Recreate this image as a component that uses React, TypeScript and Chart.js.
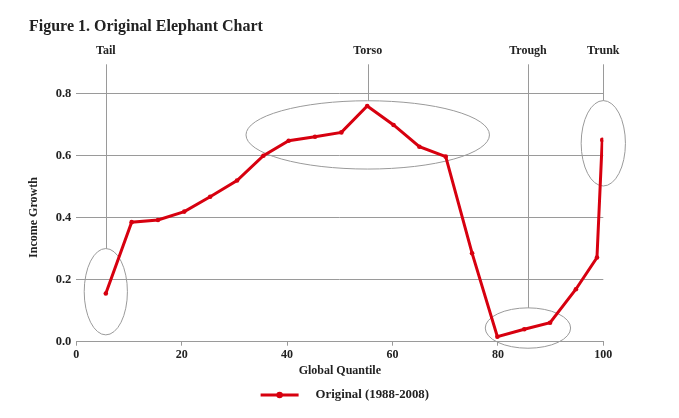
import React, { useEffect, useRef } from 'react';
import { Chart, registerables } from 'chart.js';

Chart.register(...registerables);

// ---- data ----
const chartTitle = 'Figure 1. Original Elephant Chart';
const seriesLabel = 'Original (1988-2008)';
const quantiles = [5.6, 10.5, 15.5, 20.5, 25.4, 30.5, 35.5, 40.3, 45.3, 50.3, 55.2, 60.2, 65.1, 70.1, 75.1, 79.9, 85, 89.9, 94.8, 98.8, 99.8];
const growth = [0.155, 0.385, 0.392, 0.419, 0.467, 0.519, 0.599, 0.647, 0.66, 0.674, 0.759, 0.698, 0.628, 0.596, 0.285, 0.016, 0.04, 0.061, 0.169, 0.271, 0.65];
const yTickValues = [0, 0.2, 0.4, 0.6, 0.8];
const xTickValues = [0, 20, 40, 60, 80, 100];
const xAxisTitle = 'Global Quantile';
const yAxisTitle = 'Income Growth';

// annotated regions (ellipses in data units)
const regionNames = ['Tail', 'Torso', 'Trough', 'Trunk'];
const regionCx = [5.6, 55.3, 85.7, 100];
const regionCy = [0.161, 0.666, 0.044, 0.639];
const regionRx = [4.1, 23.1, 8.1, 4.2];
const regionRy = [0.139, 0.11, 0.065, 0.1375];

const FONT = "'Liberation Serif', 'Times New Roman', serif";
const TEXT = '#222222';
const RED = '#d7000f';
const GREY = '#9a9a9a';

const regionPlugin = {
  id: 'regions',
  beforeDatasetsDraw(chart: any) {
    const { ctx, chartArea, scales } = chart;
    const xs = scales.x;
    const ys = scales.y;
    ctx.save();
    ctx.strokeStyle = GREY;
    ctx.lineWidth = 1;
    for (let i = 0; i < regionNames.length; i++) {
      const cx = xs.getPixelForValue(regionCx[i]);
      const cy = ys.getPixelForValue(regionCy[i]);
      const rx = Math.abs(xs.getPixelForValue(regionCx[i] + regionRx[i]) - cx);
      const ry = Math.abs(ys.getPixelForValue(regionCy[i] + regionRy[i]) - cy);
      ctx.beginPath();
      ctx.ellipse(cx, cy, rx, ry, 0, 0, Math.PI * 2);
      ctx.stroke();
      const lineTop = chartArea.top - 29;
      ctx.beginPath();
      ctx.moveTo(Math.round(cx) + 0.5, lineTop);
      ctx.lineTo(Math.round(cx) + 0.5, cy - ry);
      ctx.stroke();
      ctx.fillStyle = TEXT;
      ctx.font = `bold 12px ${FONT}`;
      ctx.textAlign = 'center';
      ctx.textBaseline = 'middle';
      ctx.fillText(regionNames[i], cx, chartArea.top - 42.5);
    }
    ctx.restore();
  },
};

const legendPlugin = {
  id: 'customLegend',
  afterDraw(chart: any) {
    const { ctx } = chart;
    const ds = chart.data.datasets[0];
    ctx.save();
    ctx.font = `bold 12.8px ${FONT}`;
    const tw = ctx.measureText(ds.label).width;
    const lineW = 38;
    const gap = 17;
    const total = lineW + gap + tw;
    const x0 = (chart.chartArea.left + chart.chartArea.right) / 2 + 5 - total / 2;
    const y = chart.height - 15;
    ctx.strokeStyle = ds.borderColor;
    ctx.lineWidth = 3;
    ctx.beginPath();
    ctx.moveTo(x0, y);
    ctx.lineTo(x0 + lineW, y);
    ctx.stroke();
    ctx.fillStyle = ds.borderColor;
    ctx.beginPath();
    ctx.arc(x0 + lineW / 2, y, 3.2, 0, Math.PI * 2);
    ctx.fill();
    ctx.fillStyle = TEXT;
    ctx.textAlign = 'left';
    ctx.textBaseline = 'middle';
    ctx.fillText(ds.label, x0 + lineW + gap, y);
    ctx.restore();
  },
};

export default function App() {
  const ref = useRef<HTMLCanvasElement | null>(null);
  useEffect(() => {
    if (!ref.current) return;
    const chart = new Chart(ref.current, {
      type: 'line',
      data: {
        datasets: [
          {
            label: seriesLabel,
            data: quantiles.map((q, i) => ({ x: q, y: growth[i] })),
            borderColor: RED,
            backgroundColor: RED,
            borderWidth: 3,
            pointRadius: 2.3,
            pointHoverRadius: 2.3,
            pointBackgroundColor: RED,
            pointBorderWidth: 0,
            tension: 0,
          },
        ],
      },
      options: {
        animation: false,
        responsive: true,
        maintainAspectRatio: false,
        layout: { padding: { left: 21, right: 67.7, top: 0, bottom: 32 } },
        plugins: {
          legend: { display: false },
          tooltip: { enabled: false },
          title: {
            display: true,
            text: chartTitle,
            align: 'start',
            color: TEXT,
            font: { family: FONT, size: 16, weight: 'bold' },
            padding: { top: 9.4, bottom: 56.7 },
          },
        },
        scales: {
          x: {
            type: 'linear',
            min: 0,
            max: 100,
            afterBuildTicks: (s: any) => {
              s.ticks = xTickValues.map((v) => ({ value: v }));
            },
            afterFit: (s: any) => {
              s.height = 36.3;
            },
            grid: { drawOnChartArea: false, drawTicks: true, tickLength: 4, color: GREY, tickColor: GREY },
            border: { display: true, color: GREY, width: 1 },
            ticks: { color: TEXT, font: { family: FONT, size: 12, weight: 'bold' }, padding: 2, maxRotation: 0 },
            title: {
              display: true,
              text: xAxisTitle,
              color: TEXT,
              font: { family: FONT, size: 12, weight: 'bold' },
              padding: { top: 4, bottom: 0 },
            },
          },
          y: {
            type: 'linear',
            min: 0,
            max: 0.8,
            afterBuildTicks: (s: any) => {
              s.ticks = yTickValues.map((v) => ({ value: v }));
            },
            afterFit: (s: any) => {
              s.width = 47.3;
            },
            grid: { drawTicks: false, color: GREY, lineWidth: 1 },
            border: { display: false },
            ticks: {
              color: TEXT,
              font: { family: FONT, size: 12.5, weight: 'bold' },
              padding: 5,
              callback: (v: any) => Number(v).toFixed(1),
            },
            title: {
              display: true,
              text: yAxisTitle,
              color: TEXT,
              font: { family: FONT, size: 12, weight: 'bold' },
              padding: { top: -2, bottom: 0 },
            },
          },
        },
      },
      plugins: [regionPlugin, legendPlugin],
    } as any);
    return () => chart.destroy();
  }, []);
  return (
    <div style={{ position: 'relative', width: '663px', height: '402px' }}>
      <canvas ref={ref} />
    </div>
  );
}
